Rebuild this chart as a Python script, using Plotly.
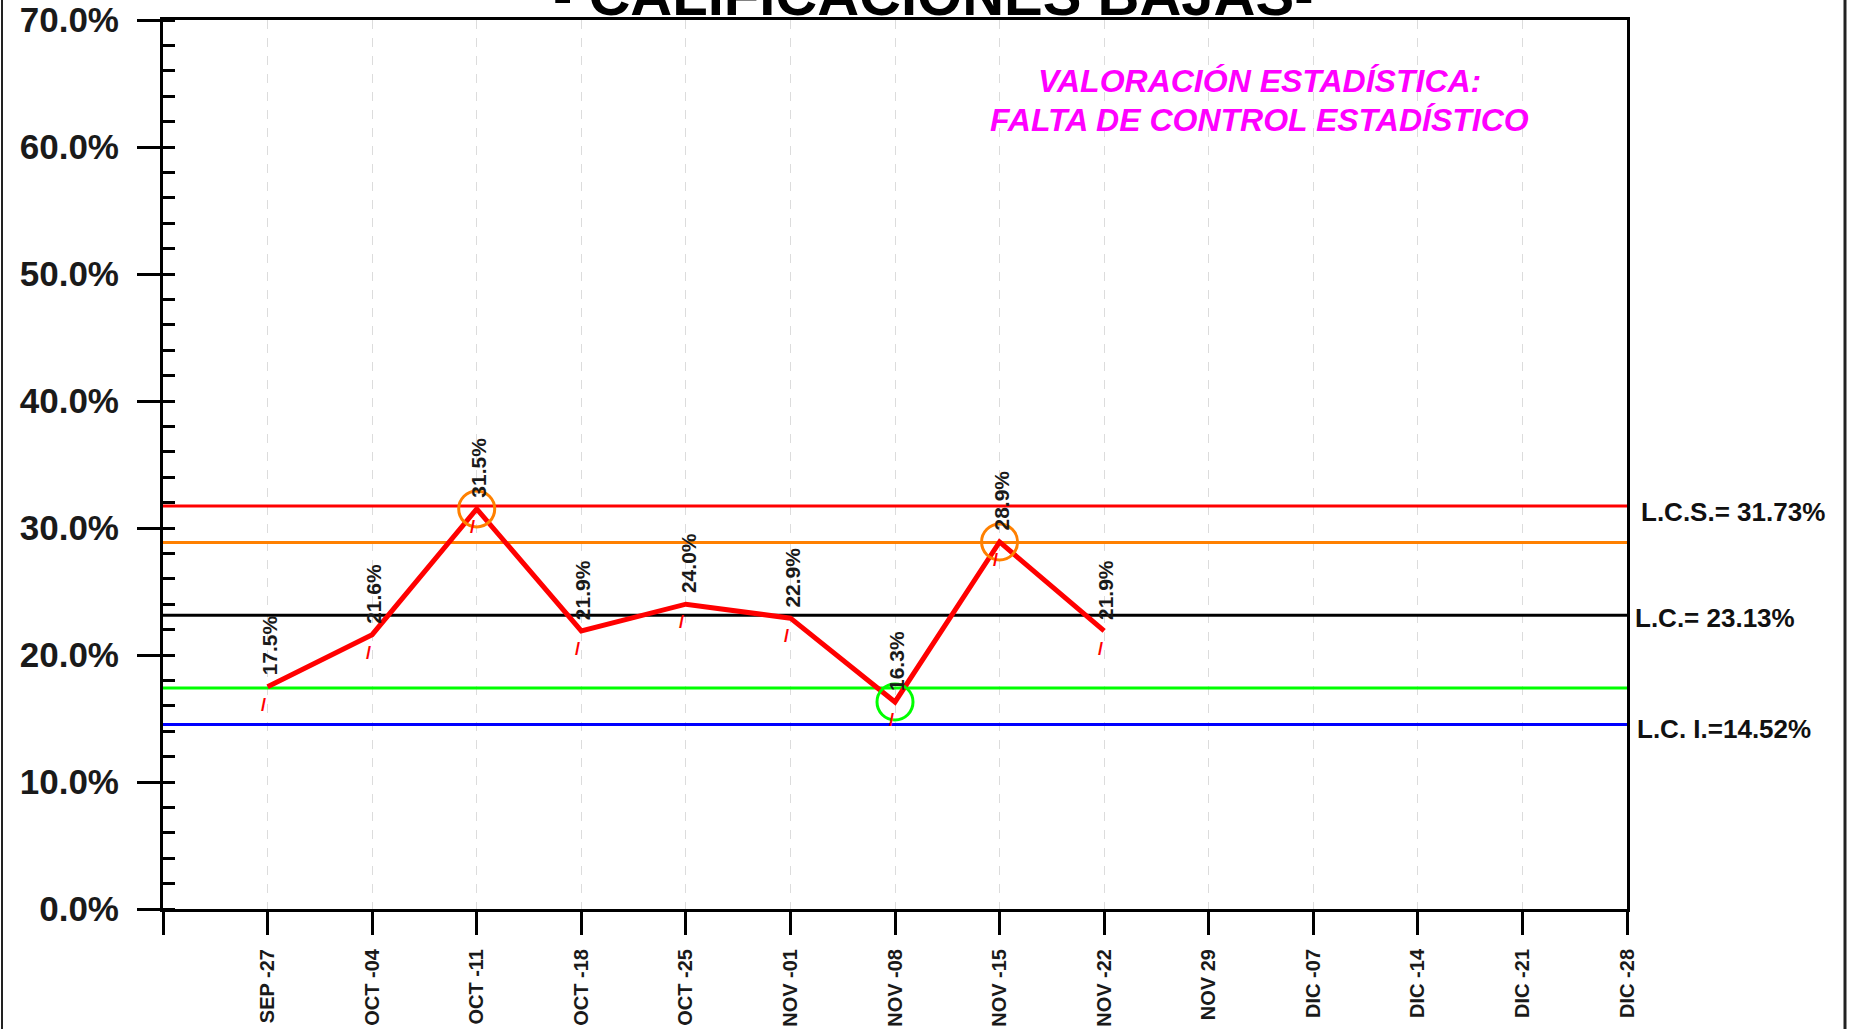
import plotly.graph_objects as go

# ---- data ----
week_labels = ["SEP -27", "OCT -04", "OCT -11", "OCT -18", "OCT -25", "NOV -01", "NOV -08",
               "NOV -15", "NOV -22", "NOV 29", "DIC -07", "DIC -14", "DIC -21", "DIC -28"]
pct_values = [17.5, 21.6, 31.5, 21.9, 24.0, 22.9, 16.3, 28.9, 21.9]
lcs = 31.73
lc = 23.13
lci = 14.52
upper_warn = 28.86
lower_warn = 17.40
orange_idx = [2, 7]
green_idx = [6]
limit_labels = ["L.C.S.= 31.73%", "L.C.= 23.13%", "L.C. I.=14.52%"]
title_text = "- CALIFICACIONES BAJAS-"
note_lines = ["VALORACIÓN ESTADÍSTICA:", "FALTA DE CONTROL ESTADÍSTICO"]

FONT = "Liberation Sans, Arial, sans-serif"

x_pos = list(range(1, len(week_labels) + 1))
x_data = x_pos[:len(pct_values)]

fig = go.Figure()

# horizontal control lines
for val, col in [(lcs, "#FF0000"), (upper_warn, "#FF8000"), (lc, "#000000"),
                 (lower_warn, "#00FF00"), (lci, "#0000FF")]:
    fig.add_trace(go.Scatter(x=[0, len(week_labels)], y=[val, val], mode="lines",
                             line=dict(color=col, width=3), hoverinfo="skip", showlegend=False))

# main series
fig.add_trace(go.Scatter(x=x_data, y=pct_values, mode="lines",
                         line=dict(color="#FF0000", width=5), showlegend=False))

# highlight circles
fig.add_trace(go.Scatter(x=[x_data[i] for i in orange_idx], y=[pct_values[i] for i in orange_idx],
                         mode="markers", marker=dict(symbol="circle-open", size=36,
                                                     line=dict(color="#FF8000", width=3), color="#FF8000"),
                         showlegend=False))
fig.add_trace(go.Scatter(x=[x_data[i] for i in green_idx], y=[pct_values[i] for i in green_idx],
                         mode="markers", marker=dict(symbol="circle-open", size=36,
                                                     line=dict(color="#00FF00", width=3), color="#00FF00"),
                         showlegend=False))

annotations = []
for xv, yv in zip(x_data, pct_values):
    annotations.append(dict(x=xv, y=yv, xref="x", yref="y", text=f"{yv:.1f}%", textangle=-90,
                            showarrow=False, xanchor="center", yanchor="bottom", yshift=9, xshift=2,
                            font=dict(family=FONT, size=21, color="#1a1a1a", weight="bold")))
    annotations.append(dict(x=xv, y=yv, xref="x", yref="y", text="/", showarrow=False,
                            xanchor="center", yanchor="middle", yshift=-18, xshift=-4,
                            font=dict(family=FONT, size=18, color="#FF0000", weight="bold")))

# right labels for limits
for val, txt, xs, ys in [(lcs, limit_labels[0], 12, -6), (lc, limit_labels[1], 6, -3),
                         (lci, limit_labels[2], 8, -4)]:
    annotations.append(dict(x=1, y=val, xref="paper", yref="y", text=txt, showarrow=False,
                            xanchor="left", yanchor="middle", xshift=xs, yshift=ys,
                            font=dict(family=FONT, size=26, color="#111111", weight="bold")))

# title (partly cut off at the top)
annotations.append(dict(x=0.526, y=0.9895, xref="paper", yref="paper", text=title_text,
                        showarrow=False, xanchor="center", yanchor="bottom",
                        font=dict(family=FONT, size=58, color="#000000", weight="bold")))

# magenta note
for i, line in enumerate(note_lines):
    annotations.append(dict(x=0.749, y=[0.9315, 0.888][i], xref="paper", yref="paper", text=line,
                            showarrow=False, xanchor="center", yanchor="middle",
                            font=dict(family=FONT, size=32, color="#FF00FF", weight="bold",
                                      style="italic")))

L, R, T, B = 163, 222, 20, 120
W, H = 1849, 1029
pw = W - L - R
ph = H - T - B

shapes = [
    dict(type="line", xref="paper", yref="paper", x0=(2 - L) / pw, x1=(2 - L) / pw,
         y0=-0.2, y1=1.1, line=dict(color="#222222", width=2)),
    dict(type="line", xref="paper", yref="paper", x0=(1845 - L) / pw, x1=(1845 - L) / pw,
         y0=-0.2, y1=1.1, line=dict(color="#222222", width=3)),
]

fig.update_layout(
    width=W, height=H,
    margin=dict(l=L, r=R, t=T, b=B, autoexpand=False),
    paper_bgcolor="white", plot_bgcolor="white",
    annotations=annotations, shapes=shapes,
    showlegend=False,
    xaxis=dict(range=[0, len(week_labels)], tickmode="array",
               tickvals=[0] + x_pos, ticktext=[""] + week_labels,
               tickangle=-90, ticks="outside", ticklen=23, tickwidth=3, tickcolor="black",
               showline=True, linewidth=3, linecolor="black", mirror=True,
               showgrid=True, gridcolor="#dcdcdc", gridwidth=1, griddash="dash",
               zeroline=False, ticklabelstandoff=6, automargin=False,
               tickfont=dict(family=FONT, size=20, color="#1a1a1a", weight="bold")),
    yaxis=dict(range=[0, 70], dtick=10, tick0=0, tickformat=".1f", ticksuffix="%",
               ticks="outside", ticklen=23, tickwidth=3, tickcolor="black",
               minor=dict(dtick=2, ticks="inside", ticklen=12, tickwidth=3, tickcolor="black",
                          showgrid=False),
               showline=True, linewidth=3, linecolor="black", mirror=True,
               showgrid=False, zeroline=False, ticklabelstandoff=11, automargin=False,
               tickfont=dict(family=FONT, size=35, color="#1a1a1a", weight="bold")),
)

fig.write_html("out.html", config={"displayModeBar": False},
               post_script="document.body.style.margin='0';document.body.style.overflow='hidden';")
